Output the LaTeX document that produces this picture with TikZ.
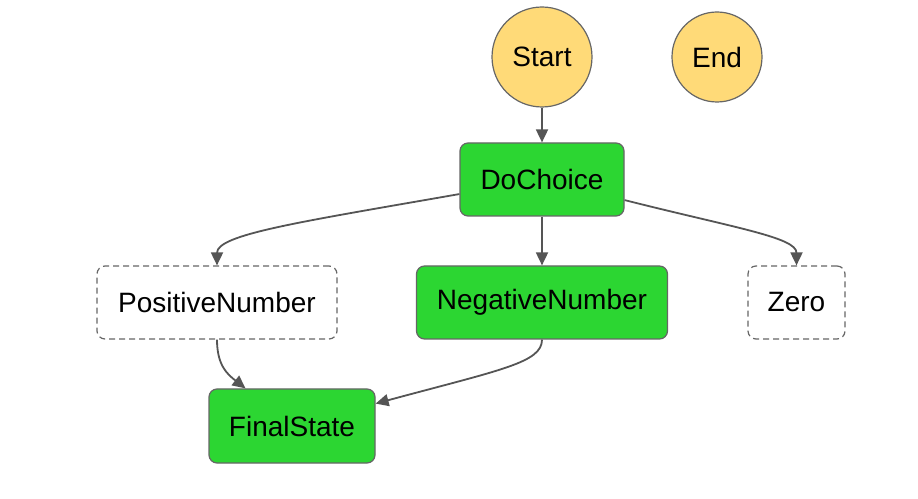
\documentclass[tikz,border=0pt]{standalone}
\usepackage{fontspec}
\setmainfont{Liberation Sans}
\usetikzlibrary{arrows.meta,calc}
\definecolor{stgreen}{HTML}{2CD632}
\definecolor{styellow}{HTML}{FFDA78}
\definecolor{stborder}{HTML}{666666}
\definecolor{stedge}{HTML}{555555}
\begin{document}
\begin{tikzpicture}[x=1pt,y=1pt,
  every node/.style={font=\fontsize{28}{32}\selectfont, inner sep=0pt},
  term/.style={circle, draw=stborder, line width=1.2pt, fill=styellow},
  task/.style={rectangle, rounded corners=8pt, draw=stborder, line width=1.2pt, fill=stgreen, minimum height=73pt},
  ghost/.style={rectangle, rounded corners=8pt, draw=stborder, line width=1.2pt, fill=white, dash pattern=on 6pt off 4pt, minimum height=73pt},
  edge/.style={draw=stedge, line width=1.8pt, -{Triangle[length=13pt,width=12pt]}}]
\useasboundingbox (0,0) rectangle (918,498);
\node[term, minimum size=100pt] (start) at (542,441) {Start};
\node[term, minimum size=90pt] (end) at (717,441) {End};
\node[task, minimum width=164pt] (do) at (542,318.5) {DoChoice};
\node[ghost, minimum width=240pt] (pos) at (217,195.5) {PositiveNumber};
\node[task, minimum width=251pt] (neg) at (542,195.5) {NegativeNumber};
\node[ghost, minimum width=97pt] (zero) at (796.5,195.5) {Zero};
\node[task, minimum width=166pt, minimum height=74pt] (final) at (292,72) {FinalState};
\draw[edge] (start.south) -- (do.north);
\draw[edge] (do.south) -- (neg.north);
\draw[edge] (do.190) .. controls +(-160,-28) and +(0,31) .. (pos.north);
\draw[edge] (do.-14) .. controls +(111,-28) and +(0,28) .. (zero.north);
\draw[edge] (neg.south) .. controls +(0,-23) and +(126,34) .. (final.15);
\draw[edge] (pos.south) .. controls +(0,-26) and +(-18,14) .. (final.141);
\end{tikzpicture}
\end{document}
